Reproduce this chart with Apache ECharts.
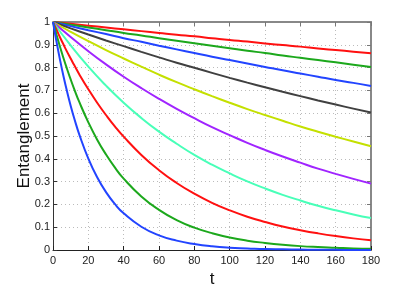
<!DOCTYPE html>
<html>
<head>
<meta charset="utf-8">
<script src="https://cdn.jsdelivr.net/npm/echarts@6/dist/echarts.min.js"></script>
<style>
html,body{margin:0;padding:0;background:#fff;}
#chart{width:409px;height:293px;}
</style>
</head>
<body>
<div id="chart"></div>
<script>
const tValues = [0,10,20,30,40,50,60,70,80,90,100,110,120,130,140,150,160,170,180];
const tFine = [0,2,4,6,8,10,12,15,20,25,30,35,40,50,60,70,80,90,100,110,120,130,140,150,160,170,180];
const xTicks = [0,20,40,60,80,100,120,140,160,180];
const yTicks = [0,0.1,0.2,0.3,0.4,0.5,0.6,0.7,0.8,0.9,1];

const redSlow = [1,0.992,0.984,0.976,0.968,0.960,0.952,0.944,0.937,0.929,0.921,0.914,0.906,0.899,0.892,0.884,0.877,0.870,0.863];
const greenSlow = [1,0.988,0.976,0.964,0.952,0.941,0.929,0.918,0.907,0.896,0.885,0.874,0.864,0.853,0.843,0.833,0.823,0.813,0.803];
const blueSlow = [1,0.982,0.964,0.947,0.929,0.913,0.896,0.880,0.864,0.848,0.833,0.818,0.803,0.788,0.774,0.760,0.746,0.733,0.719];
const darkGray = [1,0.972,0.945,0.919,0.894,0.869,0.845,0.821,0.799,0.777,0.755,0.734,0.714,0.694,0.675,0.656,0.638,0.620,0.603];
const yellowGreen = [1,0.957,0.916,0.877,0.840,0.804,0.769,0.736,0.705,0.675,0.646,0.618,0.592,0.567,0.542,0.519,0.497,0.476,0.455];
const purple = [1,0.934,0.872,0.814,0.760,0.710,0.663,0.619,0.578,0.539,0.504,0.470,0.439,0.410,0.383,0.357,0.334,0.312,0.291];
const aqua = [1,0.897,0.804,0.721,0.646,0.579,0.519,0.466,0.417,0.374,0.336,0.301,0.270,0.242,0.217,0.194,0.174,0.156,0.140];
// fast curves, read on the finer time grid tFine
const redFast = [1,0.966,0.932,0.900,0.869,0.840,0.811,0.769,0.705,0.646,0.592,0.542,0.497,0.417,0.350,0.294,0.247,0.207,0.174,0.146,0.123,0.103,0.087,0.073,0.061,0.051,0.043];
const greenFast = [1,0.944,0.890,0.840,0.793,0.748,0.706,0.647,0.560,0.484,0.419,0.362,0.313,0.235,0.176,0.131,0.098,0.074,0.055,0.041,0.031,0.023,0.017,0.013,0.010,0.007,0.005];
const blueFast = [1,0.913,0.833,0.760,0.694,0.633,0.578,0.504,0.401,0.319,0.254,0.202,0.161,0.102,0.064,0.041,0.026,0.016,0.010,0.007,0.004,0.003,0.002,0.001,0.001,0.000,0.000];

const seriesList = [
  {name:'s1', t: tValues, values: redSlow, color:'#ff1010'},
  {name:'s2', t: tValues, values: greenSlow, color:'#1ca81c'},
  {name:'s3', t: tValues, values: blueSlow, color:'#2244ff'},
  {name:'s4', t: tValues, values: darkGray, color:'#404040'},
  {name:'s5', t: tValues, values: yellowGreen, color:'#c4e000'},
  {name:'s6', t: tValues, values: purple, color:'#a024ff'},
  {name:'s7', t: tValues, values: aqua, color:'#48ffb8'},
  {name:'s8', t: tFine, values: redFast, color:'#ff1010'},
  {name:'s9', t: tFine, values: greenFast, color:'#1ca81c'},
  {name:'s10', t: tFine, values: blueFast, color:'#2244ff'}
];

const chart = echarts.init(document.getElementById('chart'), null, {renderer:'canvas'});
const font = '"Liberation Sans", Arial, sans-serif';
const xMin = xTicks[0], xMax = xTicks[xTicks.length-1], xInt = xTicks[1]-xTicks[0];
const yMin = yTicks[0], yMax = yTicks[yTicks.length-1], yInt = 0.1;

chart.setOption({
  animation:false,
  backgroundColor:'#fff',
  grid:{left:53, right:38, top:22, bottom:33, containLabel:false},
  xAxis:[{
    type:'value', min:xMin, max:xMax, interval:xInt, position:'bottom',
    name:'t', nameLocation:'middle', nameGap:21, nameMoveOverlap:false,
    nameTextStyle:{fontFamily:font, fontSize:17, color:'#111'},
    axisLine:{show:true, onZero:false, lineStyle:{color:'#222', width:1}},
    axisTick:{show:true, inside:true, length:4, lineStyle:{color:'#222'}},
    axisLabel:{fontFamily:font, fontSize:11, color:'#222', margin:5},
    splitLine:{show:true, lineStyle:{type:[1,3], color:'#bbb', width:1}}
  },{
    type:'value', min:xMin, max:xMax, interval:xInt, position:'top',
    axisLine:{show:true, onZero:false, lineStyle:{color:'#888', width:2}},
    axisTick:{show:true, inside:true, length:4, lineStyle:{color:'#777'}},
    axisLabel:{show:false}, splitLine:{show:false}
  }],
  yAxis:[{
    type:'value', min:yMin, max:yMax, interval:yInt, position:'left',
    name:'Entanglement', nameLocation:'middle', nameGap:20, nameRotate:90, nameMoveOverlap:false,
    nameTextStyle:{fontFamily:font, fontSize:17, color:'#111'},
    axisLine:{show:true, onZero:false, lineStyle:{color:'#333', width:1}},
    axisTick:{show:true, inside:true, length:4, lineStyle:{color:'#333'}},
    axisLabel:{fontFamily:font, fontSize:11, color:'#222', margin:3,
      formatter: v => (Math.abs(v) < 1e-9 ? '0' : (Math.abs(v-1) < 1e-9 ? '1' : v.toFixed(1)))},
    splitLine:{show:true, lineStyle:{type:[1,3], color:'#bbb', width:1}}
  },{
    type:'value', min:yMin, max:yMax, interval:yInt, position:'right',
    axisLine:{show:true, onZero:false, lineStyle:{color:'#888', width:2}},
    axisTick:{show:true, inside:true, length:4, lineStyle:{color:'#777'}},
    axisLabel:{show:false}, splitLine:{show:false}
  }],
  series: seriesList.map(s => ({
    name:s.name, type:'line', xAxisIndex:0, yAxisIndex:0,
    data: s.t.map((t,i)=>[t, s.values[i]]),
    showSymbol:false, smooth:true, clip:true,
    lineStyle:{color:s.color, width:2}, itemStyle:{color:s.color}
  }))
});
</script>
</body>
</html>
